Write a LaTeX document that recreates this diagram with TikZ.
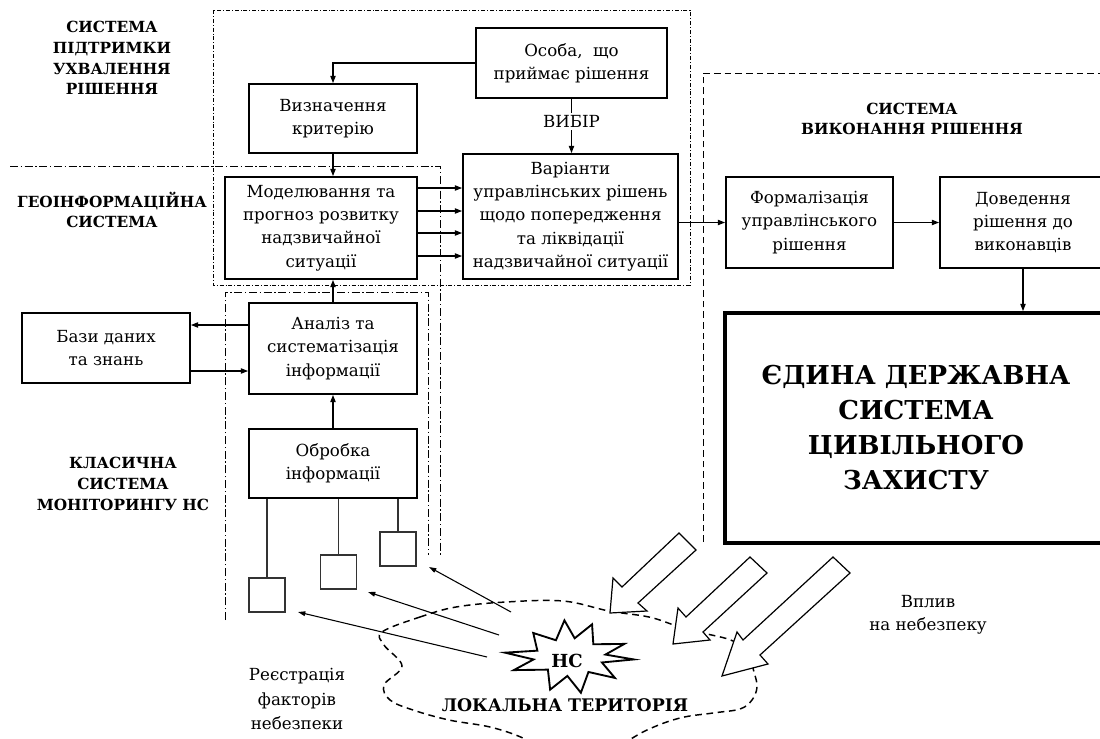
\documentclass[tikz,border=0pt]{standalone}
\usepackage{fontspec}
\newfontfamily\tnr{DejaVu Serif}
\usetikzlibrary{arrows.meta}
\begin{document}
\begin{tikzpicture}[x=0.75pt,y=-0.75pt,
  box/.style={draw,line width=1.3pt,fill=white,align=center,inner sep=1pt,font=\tnr\fontsize{12.5}{17.5}\selectfont},
  sens/.style={draw=black!80,line width=0.9pt,fill=white,minimum width=27pt,minimum height=25.5pt,inner sep=0pt},
  sline/.style={draw=black!80,line width=0.8pt},
  arr/.style={line width=0.9pt,-{Triangle[length=5.5pt,width=4pt]}},
  thinarr/.style={line width=0.8pt,-{Triangle[length=5.5pt,width=3.5pt]}},
  lbl/.style={font=\tnr\bfseries\fontsize{11.5}{15.5}\selectfont,align=center,inner sep=0pt},
  txt/.style={font=\tnr\fontsize{12.5}{17.5}\selectfont,align=center,inner sep=0pt},
  frameA/.style={line width=0.6pt,dash pattern=on 3pt off 1.5pt on 0.6pt off 1.5pt},
  frameB/.style={line width=0.7pt,dash pattern=on 6pt off 2pt on 1pt off 2pt},
  frameD/.style={line width=0.7pt,dash pattern=on 5pt off 3pt},
  cloud/.style={line width=1.1pt,dash pattern=on 5pt off 3.5pt},
  blockarr/.style={draw,line width=0.9pt,fill=white,line join=miter},
  burst/.style={draw,line width=1.4pt,fill=white,line join=miter},
]
\useasboundingbox (0,0) rectangle (1100,739);
\clip (0,0) rectangle (1100,739);
\fill[white] (0,0) rectangle (1100,739);

% frames
\draw[frameA] (213,10) rectangle (690,285);
\draw[frameB] (10,166) -- (440,166) -- (440,555);
\draw[frameB] (225,620) -- (225,292) -- (428,292) -- (428,555);
\draw[frameD] (703,542) -- (703,73) -- (1110,73);

% level coordinates
\coordinate (y188) at (0,188);
\coordinate (y211) at (0,211);
\coordinate (y233) at (0,233);
\coordinate (y256) at (0,256);
\coordinate (y325) at (0,325);
\coordinate (y371) at (0,371);

% boxes
\node[box,minimum width=143.25pt,minimum height=52.5pt] (osoba) at (571.5,63) {Особа, \ що\\приймає рішення};
\node[box,minimum width=126pt,minimum height=51.75pt] (vyznach) at (333,118.5) {Визначення\\критерію};
\node[box,minimum width=144pt,minimum height=76.5pt] (model) at (321,228) {Моделювання та\\прогноз розвитку\\надзвичайної\\ситуації};
\node[box,minimum width=161.25pt,minimum height=93.75pt] (variant) at (570.5,216.5) {Варіанти\\управлінських рішень\\щодо попередження\\та ліквідації\\надзвичайної ситуації};
\node[box,minimum width=125.25pt,minimum height=68.25pt] (formal) at (809.5,222.5) {Формалізація\\управлінського\\рішення};
\node[box,minimum width=124.5pt,minimum height=68.25pt] (doved) at (1023,222.5) {Доведення\\рішення до\\виконавців};
\node[box,line width=2.8pt,font=\tnr\bfseries\fontsize{19.5}{26.25}\selectfont,minimum width=286.5pt,minimum height=172.5pt] (edyna) at (916,428) {ЄДИНА ДЕРЖАВНА\\СИСТЕМА\\ЦИВІЛЬНОГО\\ЗАХИСТУ};
\node[box,minimum width=126pt,minimum height=52.5pt] (bazy) at (106,348) {Бази даних\\та знань};
\node[box,minimum width=126pt,minimum height=68.25pt] (analiz) at (333,348.5) {Аналіз та\\систематізація\\інформації};
\node[box,minimum width=126pt,minimum height=51.75pt] (obrobka) at (333,463.5) {Обробка\\інформації};
\node[sens] (s1) at (267,595) {};
\node[sens] (s2) at (338.5,572) {};
\node[sens] (s3) at (398,549) {};

% connectors
\draw[arr] (osoba.west) -| (vyznach.north);
\draw[arr] (vyznach.south) -- (vyznach.south |- model.north);
\draw[arr] (model.east |- y188) -- (variant.west |- y188);
\draw[arr] (model.east |- y211) -- (variant.west |- y211);
\draw[arr] (model.east |- y233) -- (variant.west |- y233);
\draw[arr] (model.east |- y256) -- (variant.west |- y256);
\draw[arr] (osoba.south) -- node[pos=0.42,txt,fill=white,inner sep=2pt] (vybir) {ВИБІР} (osoba.south |- variant.north);
\draw[arr] (variant.east |- formal.west) -- (formal.west);
\draw[arr] (formal.east) -- (doved.west);
\draw[arr] (doved.south) -- (doved.south |- edyna.north);
\draw[arr] (analiz.west |- y325) -- (bazy.east |- y325);
\draw[arr] (bazy.east |- y371) -- (analiz.west |- y371);
\draw[arr] (analiz.north) -- (analiz.north |- model.south);
\draw[arr] (obrobka.north) -- (analiz.south);
\draw[sline] (obrobka.south -| s1.north) -- (s1.north);
\draw[sline] (obrobka.south -| s2.north) -- (s2.north);
\draw[sline] (obrobka.south -| s3.north) -- (s3.north);

% labels
\node[lbl] (lA) at (112,58) {СИСТЕМА\\ПІДТРИМКИ\\УХВАЛЕННЯ\\РІШЕННЯ};
\node[lbl] (lB) at (112,210) {ГЕОІНФОРМАЦІЙНА\\СИСТЕМА};
\node[lbl] (lC) at (123,484) {КЛАСИЧНА\\СИСТЕМА\\МОНІТОРИНГУ НС};
\node[lbl] (lD) at (912,119) {СИСТЕМА\\ВИКОНАННЯ РІШЕННЯ};
\node[txt,font=\tnr\fontsize{12.5}{18.5}\selectfont] (reg) at (297,699) {Реєстрація\\факторів\\небезпеки};
\node[txt] (vplyv) at (928,615) {Вплив\\на небезпеку};

% cloud
\draw[cloud] plot[smooth cycle, tension=0.6] coordinates {(382,632) (420,617) (456,607) (506,602) (563,601) (609,611) (649,617) (677,626) (703,633) (733,641) (748,655) (754,672) (757,687) (752,700) (740,709) (713,713) (680,718) (647,730) (605,752) (560,757) (523,738) (490,727) (449,720) (413,710) (390,700) (384,685) (402,666) (384,645)};

% registration arrows
\coordinate (t1) at (511,612);
\coordinate (h1) at (429,567);
\coordinate (t2) at (499,635);
\coordinate (h2) at (368,592);
\coordinate (t3) at (487,657);
\coordinate (h3) at (298,612);
\draw[thinarr] (t1) -- (h1);
\draw[thinarr] (t2) -- (h2);
\draw[thinarr] (t3) -- (h3);

% block arrows
\draw[blockarr] (679,533) -- (696,550) -- (638,603) -- (647,611) -- (610,613) -- (613,578) -- (622,587) -- cycle;
\draw[blockarr] (750,557) -- (767,573) -- (703,632) -- (710,640) -- (673,644) -- (678,608) -- (686,617) -- cycle;
\draw[blockarr] (833,557) -- (850,573) -- (760,655) -- (768,664) -- (722,676) -- (737,632) -- (743,640) -- cycle;

% burst
\begin{scope}[shift={(570,657)}]
\draw[burst] (5:64 and 28) -- (20:34 and 16) -- (38:57 and 34) -- (52:30 and 19) -- (75:42 and 37) -- (95:30 and 19) -- (115:47 and 36) -- (132:33 and 17) -- (155:62 and 31) -- (170:37 and 14) -- (190:66 and 25) -- (205:36 and 15) -- (225:52 and 34) -- (242:30 and 19) -- (262:40 and 37) -- (280:27 and 19) -- (298:47 and 37) -- (315:33 and 18) -- (335:60 and 31) -- (350:36 and 14) -- cycle;
\end{scope}
\node[font=\tnr\bfseries\fontsize{13.5}{18}\selectfont,inner sep=0pt] (ns) at (567,661) {НС};
\node[font=\tnr\bfseries\fontsize{13}{18}\selectfont,inner sep=0pt] (loc) at (565,705) {ЛОКАЛЬНА ТЕРИТОРІЯ};
\end{tikzpicture}
\end{document}
